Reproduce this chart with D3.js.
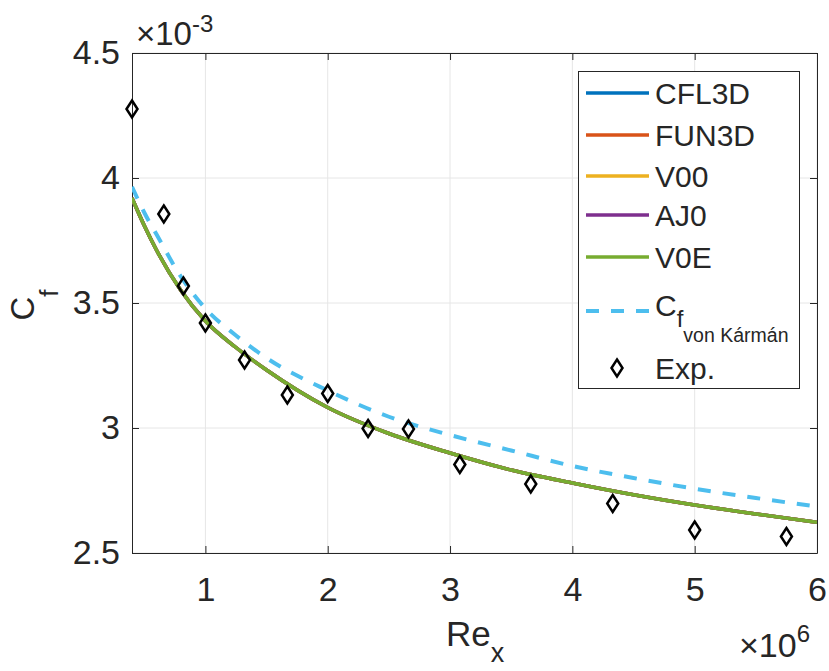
<!DOCTYPE html>
<meta charset="utf-8">
<script src="https://d3js.org/d3.v7.min.js"></script>
<style>
  body { margin: 0; background: #fff; }
  text { font-family: "Liberation Sans", Arial, Helvetica, sans-serif; fill: #262626; }
</style>
<div id="chart"></div>
<script>
// Re_x in units of 1e6, Cf in units of 1e-3
var reGrid = [0.4, 0.5, 0.6, 0.8, 1.0, 1.25, 1.5, 2.0, 2.5, 3.0, 3.5, 4.0, 4.5, 5.0, 5.5, 6.0];
var cfl3d = [3.920, 3.810, 3.712, 3.550, 3.428, 3.322, 3.232, 3.082, 2.978, 2.900, 2.832, 2.780, 2.733, 2.692, 2.656, 2.623];
var fun3d = [3.920, 3.810, 3.712, 3.550, 3.428, 3.322, 3.232, 3.082, 2.978, 2.900, 2.832, 2.780, 2.733, 2.692, 2.656, 2.623];
var v00   = [3.920, 3.810, 3.712, 3.550, 3.428, 3.322, 3.232, 3.082, 2.978, 2.900, 2.832, 2.780, 2.733, 2.692, 2.656, 2.623];
var aj0   = [3.920, 3.810, 3.712, 3.550, 3.428, 3.322, 3.232, 3.082, 2.978, 2.900, 2.832, 2.780, 2.733, 2.692, 2.656, 2.623];
var v0e   = [3.920, 3.810, 3.712, 3.550, 3.428, 3.322, 3.232, 3.082, 2.978, 2.900, 2.832, 2.780, 2.733, 2.692, 2.656, 2.623];
var vonKarman = [3.965, 3.862, 3.775, 3.605, 3.478, 3.370, 3.280, 3.150, 3.045, 2.972, 2.910, 2.848, 2.800, 2.757, 2.720, 2.686];

var expRe = [0.40, 0.66, 0.82, 1.00, 1.32, 1.67, 2.00, 2.33, 2.66, 3.08, 3.66, 4.33, 5.00, 5.75];
var expCf = [4.276, 3.856, 3.568, 3.420, 3.272, 3.132, 3.138, 2.998, 2.996, 2.854, 2.776, 2.698, 2.592, 2.566];

var xTicks = [1, 2, 3, 4, 5, 6];
var yTicks = [2.5, 3, 3.5, 4, 4.5];

var series = [
  {name: "CFL3D", values: cfl3d, color: "#0072BD"},
  {name: "FUN3D", values: fun3d, color: "#D95319"},
  {name: "V00",   values: v00,   color: "#EDB120"},
  {name: "AJ0",   values: aj0,   color: "#7E2F8E"},
  {name: "V0E",   values: v0e,   color: "#77AC30"}
];

var W = 829, H = 671;
var margin = {top: 53, right: 12, bottom: 118, left: 132};
var width = W - margin.left - margin.right,
    height = H - margin.top - margin.bottom;

var svgRoot = d3.select("#chart").append("svg")
  .attr("width", W).attr("height", H);
var svg = svgRoot.append("g")
  .attr("transform", "translate(" + margin.left + "," + margin.top + ")");

var x = d3.scaleLinear().domain([0.4, 6]).range([0, width]);
var y = d3.scaleLinear().domain([2.5, 4.5]).range([height, 0]);

svg.append("defs").append("clipPath").attr("id", "clip")
  .append("rect").attr("width", width).attr("height", height);

// grid
svg.append("g").selectAll("line").data(xTicks).enter().append("line")
  .attr("x1", d => x(d)).attr("x2", d => x(d)).attr("y1", 0).attr("y2", height)
  .attr("stroke", "#e6e6e6").attr("stroke-width", 1);
svg.append("g").selectAll("line").data(yTicks).enter().append("line")
  .attr("y1", d => y(d)).attr("y2", d => y(d)).attr("x1", 0).attr("x2", width)
  .attr("stroke", "#e6e6e6").attr("stroke-width", 1);

// axes (ticks inside, box on)
function styleAxis(g) {
  g.select(".domain").attr("stroke", "#262626");
  g.selectAll(".tick line").attr("stroke", "#262626");
  g.selectAll(".tick text").style("font-size", "34px").attr("fill", "#262626")
    .attr("font-family", "Liberation Sans, Arial, sans-serif");
}
svg.append("g").attr("transform", "translate(0," + height + ")")
  .call(d3.axisBottom(x).tickValues(xTicks).tickSizeInner(-7).tickSizeOuter(0).tickPadding(24).tickFormat(d3.format("d")))
  .call(styleAxis);
svg.append("g")
  .call(d3.axisTop(x).tickValues(xTicks).tickSizeInner(-7).tickSizeOuter(0).tickFormat(""))
  .call(styleAxis);
svg.append("g")
  .call(d3.axisLeft(y).tickValues(yTicks).tickSizeInner(-7).tickSizeOuter(0).tickPadding(12).tickFormat(d => d3.format("")(d)))
  .call(styleAxis);
svg.append("g").attr("transform", "translate(" + width + ",0)")
  .call(d3.axisRight(y).tickValues(yTicks).tickSizeInner(-7).tickSizeOuter(0).tickFormat(""))
  .call(styleAxis);

// lines
var line = d3.line()
  .x((d, i) => x(reGrid[i]))
  .y(d => y(d))
  .curve(d3.curveMonotoneX);

var plot = svg.append("g").attr("clip-path", "url(#clip)");
series.forEach(function(s) {
  plot.append("path").datum(s.values)
    .attr("fill", "none").attr("stroke", s.color).attr("stroke-width", 3.5)
    .attr("d", line);
});
plot.append("path").datum(vonKarman)
  .attr("fill", "none").attr("stroke", "#4DBEEE").attr("stroke-width", 4)
  .attr("stroke-dasharray", "13,12")
  .attr("d", line);

// experimental diamonds
var diamond = "M0,-8.5L5.5,0L0,8.5L-5.5,0Z";
svg.append("g").selectAll("path").data(expRe).enter().append("path")
  .attr("transform", (d, i) => "translate(" + x(d) + "," + y(expCf[i]) + ")")
  .attr("d", diamond)
  .attr("fill", "none").attr("stroke", "#000").attr("stroke-width", 2.5);

// exponent labels
var ex = svgRoot.append("text").attr("x", 136).attr("y", 45).style("font-size", "33px");
ex.append("tspan").text("\u00d710");
ex.append("tspan").attr("dy", -13).style("font-size", "24px").text("-3");

var ex6 = svgRoot.append("text").attr("x", 739).attr("y", 657).style("font-size", "34px");
ex6.append("tspan").text("\u00d710");
ex6.append("tspan").attr("dy", -15).style("font-size", "24px").text("6");

// axis labels
var xl = svgRoot.append("text").attr("x", 475).attr("y", 646)
  .attr("text-anchor", "middle").style("font-size", "35px");
xl.append("tspan").text("Re");
xl.append("tspan").attr("dy", 16).style("font-size", "27px").text("x");

var yl = svgRoot.append("text")
  .attr("transform", "translate(33.5,305) rotate(-90)")
  .attr("text-anchor", "middle").style("font-size", "33px");
yl.append("tspan").text("C");
yl.append("tspan").attr("dy", 24).style("font-size", "26px").text("f");

// legend
var lg = svgRoot.append("g");
lg.append("rect").attr("x", 578.5).attr("y", 71.5).attr("width", 221).attr("height", 317)
  .attr("fill", "#fff").attr("stroke", "#262626").attr("stroke-width", 1);
var legY = [93, 135, 176, 215, 257];
series.forEach(function(s, i) {
  lg.append("line").attr("x1", 586).attr("x2", 649).attr("y1", legY[i]).attr("y2", legY[i])
    .attr("stroke", s.color).attr("stroke-width", 3.5);
  lg.append("text").attr("x", 655).attr("y", legY[i] + 11).style("font-size", "30px")
    .attr("fill", "#000").text(s.name);
});
lg.append("line").attr("x1", 586).attr("x2", 649).attr("y1", 311).attr("y2", 311)
  .attr("stroke", "#4DBEEE").attr("stroke-width", 4).attr("stroke-dasharray", "13,12");
var lt = lg.append("text").attr("x", 655).attr("y", 316).style("font-size", "30px").attr("fill", "#000");
lt.append("tspan").text("C");
lt.append("tspan").attr("dy", 11).style("font-size", "24px").text("f");
lt.append("tspan").attr("dy", 15).style("font-size", "19.5px").text("von K\u00e1rm\u00e1n");
lg.append("path").attr("transform", "translate(617,368)").attr("d", diamond)
  .attr("fill", "none").attr("stroke", "#000").attr("stroke-width", 2.5);
lg.append("text").attr("x", 655).attr("y", 379).style("font-size", "30px").attr("fill", "#000").text("Exp.");
</script>
